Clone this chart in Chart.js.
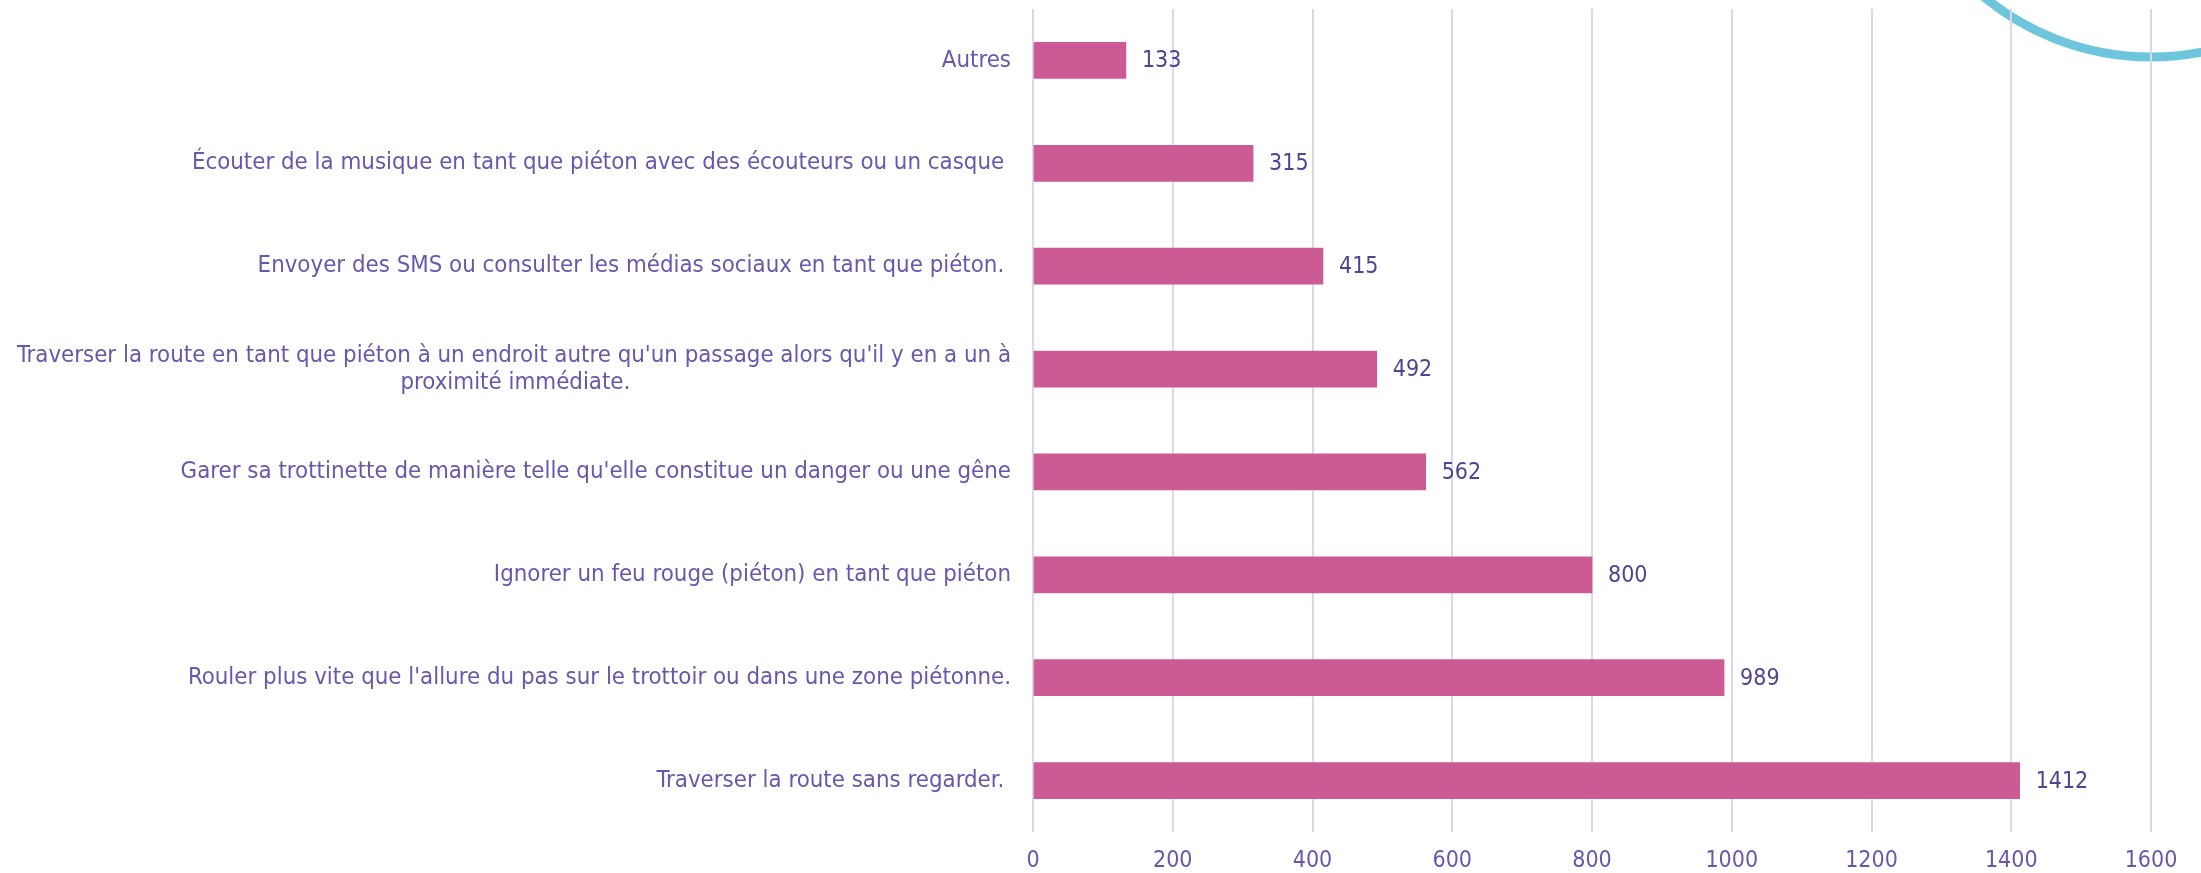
<!DOCTYPE html>
<html>
<head>
<meta charset="utf-8">
<script src="https://cdn.jsdelivr.net/npm/chart.js@4/dist/chart.umd.min.js"></script>
<style>
  html, body { margin: 0; padding: 0; background: #fff; }
  #wrap { width: 2201px; height: 873px; }
</style>
</head>
<body>
<div id="wrap"><canvas id="myCanvas" width="2201" height="873"></canvas></div>
<script>
// categories, top to bottom
const categories = [
  ['Autres'],
  ['Écouter de la musique en tant que piéton avec des écouteurs ou un casque '],
  ['Envoyer des SMS ou consulter les médias sociaux en tant que piéton. '],
  ['Traverser la route en tant que piéton à un endroit autre qu\'un passage alors qu\'il y en a un à',
   'proximité immédiate.'],
  ['Garer sa trottinette de manière telle qu\'elle constitue un danger ou une gêne'],
  ['Ignorer un feu rouge (piéton) en tant que piéton'],
  ['Rouler plus vite que l\'allure du pas sur le trottoir ou dans une zone piétonne.'],
  ['Traverser la route sans regarder. ']
];
const counts = [133, 315, 415, 492, 562, 800, 989, 1412];
const xTicks = [0, 200, 400, 600, 800, 1000, 1200, 1400, 1600];

const fontFamily = "'DejaVu Sans Condensed', 'DejaVu Sans', sans-serif";
const labelSize = 23.8;
const labelColor = '#6857ab';
const valueColor = '#4e4591';

// centre the second line of a two-line label under the first one
function padLine(ctx, first, second) {
  ctx.font = labelSize + 'px ' + fontFamily;
  var w1 = ctx.measureText(first).width;
  var w2 = ctx.measureText(second).width;
  var sp = ctx.measureText(' ').width;
  var n = Math.round((w1 - w2) / 2 / sp);
  return second + ' '.repeat(Math.max(0, n));
}

// decorative arc in the top right corner
const arcPlugin = {
  id: 'arc',
  beforeDraw(chart) {
    var ctx = chart.ctx, a = chart.chartArea;
    ctx.save();
    ctx.beginPath();
    ctx.arc(a.right, a.top - 214, 262, 0, Math.PI);
    ctx.lineWidth = 9;
    ctx.strokeStyle = '#6ec6dc';
    ctx.stroke();
    ctx.restore();
  }
};

// value labels at the end of each bar
const valuePlugin = {
  id: 'values',
  afterDatasetsDraw(chart) {
    var ctx = chart.ctx;
    var meta = chart.getDatasetMeta(0);
    ctx.save();
    ctx.font = '23px ' + fontFamily;
    ctx.fillStyle = valueColor;
    ctx.textAlign = 'left';
    ctx.textBaseline = 'middle';
    meta.data.forEach(function (bar, i) {
      ctx.fillText(String(counts[i]), bar.x + 16, bar.y + 1);
    });
    ctx.restore();
  }
};

var canvas = document.getElementById('myCanvas');
var c2 = canvas.getContext('2d');
var labels = categories.map(function (l) {
  if (l.length > 1) return [l[0], padLine(c2, l[0], l[1])];
  return l[0];
});

const data = {
  labels: labels,
  datasets: [{
    label: 'Nombre',
    data: counts,
    backgroundColor: '#cc5a94',
    borderWidth: 0,
    barThickness: 36
  }]
};

const config = {
  type: 'bar',
  data: data,
  options: {
    indexAxis: 'y',
    responsive: false,
    devicePixelRatio: 1,
    animation: false,
    layout: { padding: { top: 9, right: 50, left: 0, bottom: 0 } },
    plugins: { legend: { display: false }, tooltip: { enabled: false } },
    scales: {
      x: {
        min: 0,
        max: 1600,
        afterBuildTicks: function (scale) {
          scale.ticks = xTicks.map(function (v) { return { value: v }; });
        },
        afterFit: function (scale) { scale.height = 41; },
        grid: { color: '#dcd8ec', lineWidth: 2, drawTicks: false },
        border: { display: false },
        ticks: {
          color: labelColor,
          padding: 15,
          font: { family: fontFamily, size: 23 },
          callback: function (v) { return String(v); }
        }
      },
      y: {
        afterFit: function (scale) {
          scale.width = 1033;
          scale.paddingTop = 0;
          scale.paddingBottom = 0;
        },
        grid: { display: false, drawTicks: false },
        border: { display: false },
        ticks: {
          color: labelColor,
          padding: 22,
          autoSkip: false,
          font: { family: fontFamily, size: labelSize, lineHeight: 1.12 }
        }
      }
    }
  },
  plugins: [arcPlugin, valuePlugin]
};

var myChart = new Chart(canvas, config);
</script>
</body>
</html>
